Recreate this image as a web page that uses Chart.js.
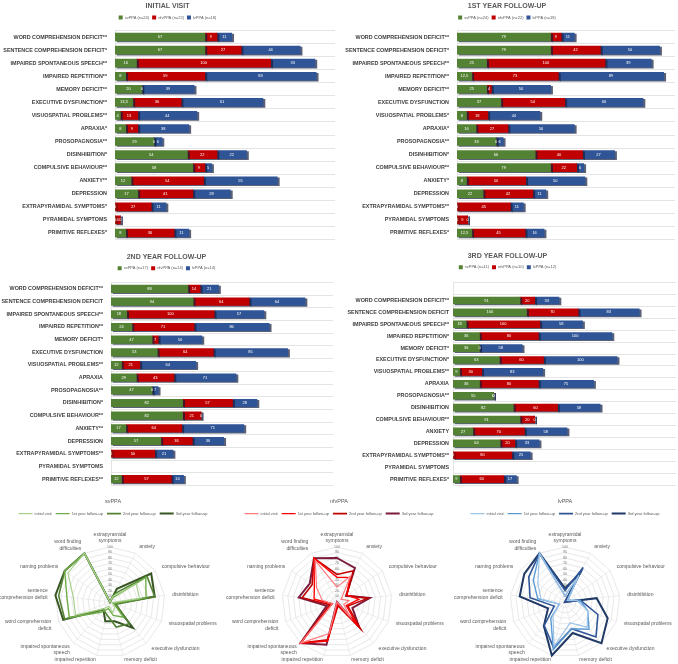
<!DOCTYPE html>
<html>
<head>
<meta charset="utf-8">
<script src="https://cdn.jsdelivr.net/npm/chart.js@4.4.1/dist/chart.umd.min.js"></script>
<style>
  body { margin: 0; background: #fff; }
  #page { position: relative; width: 678px; height: 664px; overflow: hidden; }
  .cell { position: absolute; }
</style>
</head>
<body>
<div id="page">
  <div class="cell" style="left:0;top:0;width:339px;height:242px"><canvas id="visit0"></canvas></div>
  <div class="cell" style="left:339px;top:0;width:339px;height:242px"><canvas id="visit1"></canvas></div>
  <div class="cell" style="left:0;top:245px;width:339px;height:243px"><canvas id="visit2"></canvas></div>
  <div class="cell" style="left:339px;top:245px;width:339px;height:243px"><canvas id="visit3"></canvas></div>
  <div class="cell" style="left:0;top:488px;width:226px;height:176px"><canvas id="radarSv"></canvas></div>
  <div class="cell" style="left:226px;top:488px;width:226px;height:176px"><canvas id="radarNf"></canvas></div>
  <div class="cell" style="left:452px;top:488px;width:226px;height:176px"><canvas id="radarLv"></canvas></div>
</div>
<script>
// ---- bar chart data (percent of patients, per visit) ----
const initialLabels = ['WORD COMPREHENSION DEFICIT**', 'SENTENCE COMPREHENSION DEFICIT*', 'IMPAIRED SPONTANEOUS SPEECH**', 'IMPAIRED REPETITION**', 'MEMORY DEFICIT**', 'EXECUTIVE DYSFUNCTION**', 'VISUOSPATIAL PROBLEMS**', 'APRAXIA*', 'PROSOPAGNOSIA**', 'DISINHIBITION*', 'COMPULSIVE BEHAVIOUR**', 'ANXIETY**', 'DEPRESSION', 'EXTRAPYRAMIDAL SYMPTOMS*', 'PYRAMIDAL SYMPTOMS', 'PRIMITIVE REFLEXES*'];
const firstLabels = ['WORD COMPREHENSION DEFICIT**', 'SENTENCE COMPREHENSION DEFICIT*', 'IMPAIRED SPONTANEOUS SPEECH**', 'IMPAIRED REPETITION**', 'MEMORY DEFICIT**', 'EXECUTIVE DYSFUNCTION', 'VISUOSPATIAL PROBLEMS*', 'APRAXIA*', 'PROSOPAGNOSIA**', 'DISINHIBITION*', 'COMPULSIVE BEHAVIOUR**', 'ANXIETY*', 'DEPRESSION', 'EXTRAPYRAMIDAL SYMPTOMS**', 'PYRAMIDAL SYMPTOMS', 'PRIMITIVE REFLEXES*'];
const secondLabels = ['WORD COMPREHENSION DEFICIT**', 'SENTENCE COMPREHENSION DEFICIT', 'IMPAIRED SPONTANEOUS SPEECH**', 'IMPAIRED REPETITION**', 'MEMORY DEFICIT*', 'EXECUTIVE DYSFUNCTION', 'VISUOSPATIAL PROBLEMS**', 'APRAXIA', 'PROSOPAGNOSIA**', 'DISINHIBITION*', 'COMPULSIVE BEHAVIOUR**', 'ANXIETY**', 'DEPRESSION', 'EXTRAPYRAMIDAL SYMPTOMS**', 'PYRAMIDAL SYMPTOMS', 'PRIMITIVE REFLEXES**'];
const thirdLabels = ['WORD COMPREHENSION DEFICIT**', 'SENTENCE COMPREHENSION DEFICIT', 'IMPAIRED SPONTANEOUS SPEECH**', 'IMPAIRED REPETITION*', 'MEMORY DEFICIT*', 'EXECUTIVE DYSFUNCTION*', 'VISUOSPATIAL PROBLEMS**', 'APRAXIA', 'PROSOPAGNOSIA**', 'DISINHIBITION', 'COMPULSIVE BEHAVIOUR**', 'ANXIETY', 'DEPRESSION', 'EXTRAPYRAMIDAL SYMPTOMS**', 'PYRAMIDAL SYMPTOMS', 'PRIMITIVE REFLEXES*'];

const initialLegend = ['svPPA (n=24)', 'nfvPPA (n=22)', 'lvPPA (n=18)'];
const firstLegend = ['svPPA (n=24)', 'nfvPPA (n=22)', 'lvPPA (n=18)'];
const secondLegend = ['svPPA (n=17)', 'nfvPPA (n=14)', 'lvPPA (n=14)'];
const thirdLegend = ['svPPA (n=11)', 'nfvPPA (n=10)', 'lvPPA (n=12)'];

const initialSv = [67, 67, 16, 8, 20, 13.3, 4, 8, 29, 54, 58, 12, 17, 0, 0, 8];
const initialNf = [9, 27, 100, 59, 0, 36, 13, 9, 0, 22, 9, 54, 41, 27, 4, 36];
const initialLv = [11, 44, 33, 83, 39, 61, 44, 38, 6, 22, 5, 55, 28, 11, 0, 11];

const firstSv = [79, 79, 25, 12.5, 25, 37, 8, 16, 33, 66, 79, 8, 22, 0, 0, 12.5];
const firstNf = [9, 42, 100, 73, 4, 54, 18, 27, 0, 40, 22, 50, 42, 45, 9, 45];
const firstLv = [11, 50, 39, 89, 50, 66, 44, 56, 6, 27, 6, 50, 11, 11, 0, 16];

const secondSv = [88, 94, 18, 24, 47, 53, 12, 29, 47, 82, 82, 17, 57, 0, null, 12];
const secondNf = [14, 64, 100, 71, 7, 64, 21, 43, 0, 57, 21, 64, 36, 50, null, 57];
const secondLv = [21, 64, 57, 86, 50, 85, 64, 71, 7, 28, 0, 71, 36, 21, null, 14];

const thirdSv = [91, 100, 18, 36, 36, 63, 9, 36, 55, 82, 91, 27, 64, 0, null, 9];
const thirdNf = [20, 70, 100, 80, 0, 60, 30, 80, 0, 60, 20, 70, 20, 80, null, 60];
const thirdLv = [33, 83, 58, 100, 58, 100, 83, 75, 0, 58, 0, 58, 33, 25, null, 17];

// ---- radar data (percent of patients with each symptom) ----
const radarAxes = [['extrapyramidal', 'symptoms'], 'anxiety', 'compulsive behaviour', 'disinhibition', 'visuospatial problems', 'executive dysfunction', 'memory deficit', 'impaired repetition', ['impaired spontaneous', 'speech'], ['word comprehension', 'deficit'], ['sentence', 'comprehension deficit'], 'naming problems', ['word finding', 'difficulties']];
const visitNames = ['initial visit', '1st year follow-up', '2nd year follow-up', '3rd year follow-up'];

const svRadar = [
  [0, 12, 58, 54, 4, 13.3, 20, 8, 16, 67, 67, 93, 100],
  [0, 8, 79, 66, 8, 37, 25, 12.5, 25, 79, 79, 100, 100],
  [0, 17, 82, 82, 12, 53, 47, 24, 18, 88, 94, 100, 100],
  [0, 27, 91, 82, 9, 63, 36, 36, 18, 91, 100, 100, 100]
];
const nfRadar = [
  [27, 54, 9, 22, 13, 36, 0, 59, 100, 9, 27, 45, 85],
  [45, 50, 22, 40, 18, 54, 4, 73, 100, 9, 42, 50, 90],
  [50, 64, 21, 57, 21, 64, 7, 71, 100, 14, 64, 55, 90],
  [80, 70, 20, 60, 30, 60, 0, 80, 100, 20, 70, 60, 90]
];
const lvRadar = [
  [11, 55, 5, 22, 44, 61, 39, 83, 33, 11, 44, 60, 100],
  [11, 50, 6, 27, 44, 66, 50, 89, 39, 11, 50, 70, 100],
  [21, 71, 0, 28, 64, 85, 50, 86, 57, 21, 64, 80, 100],
  [25, 58, 0, 58, 83, 100, 58, 100, 58, 33, 83, 90, 100]
];

const barColors = ['#548235', '#C00000', '#2F5597'];
const svColors = ['#A9D18E', '#70AD47', '#548235', '#375623'];
const nfColors = ['#FF7C80', '#FF0000', '#C00000', '#7B1C3C'];
const lvColors = ['#9DC3E6', '#5B9BD5', '#2F5597', '#1F3864'];
const radarWidths = [1.2, 1.4, 1.6, 2];

// fake 3D edge: dark offset shadow under the stacked bars
const barDepth = {
  id: 'barDepth',
  beforeDatasetsDraw(chart) {
    const ctx = chart.ctx;
    ctx.save();
    ctx.shadowColor = 'rgba(20,30,60,0.7)';
    ctx.shadowOffsetX = 2;
    ctx.shadowOffsetY = 1;
    ctx.shadowBlur = 0;
  },
  afterDatasetsDraw(chart) {
    chart.ctx.restore();
  }
};

// white value labels in the middle of each segment
const barValueLabels = {
  id: 'barValueLabels',
  afterDatasetsDraw(chart) {
    const ctx = chart.ctx;
    ctx.save();
    ctx.font = '4px "Liberation Sans"';
    ctx.fillStyle = '#ffffff';
    ctx.textAlign = 'center';
    ctx.textBaseline = 'middle';
    chart.data.datasets.forEach((ds, i) => {
      chart.getDatasetMeta(i).data.forEach((bar, j) => {
        const v = ds.data[j];
        if (v === null || v === undefined) return;
        ctx.fillText(String(v).replace('.', ','), (bar.x + bar.base) / 2, bar.y);
      });
    });
    ctx.restore();
  }
};

function visitChart(id, title, legendNames, labels, values, lay) {
  return new Chart(document.getElementById(id), {
    type: 'bar',
    data: {
      labels: labels,
      datasets: values.map((v, i) => ({
        label: legendNames[i],
        data: v,
        backgroundColor: barColors[i],
        borderWidth: 0,
        barThickness: lay.bar
      }))
    },
    options: {
      indexAxis: 'y',
      responsive: true,
      maintainAspectRatio: false,
      animation: false,
      layout: { padding: { top: 0, right: lay.right, bottom: lay.bottom, left: 0 } },
      scales: {
        x: {
          stacked: true, position: 'top', min: 0, max: lay.max,
          ticks: { display: false }, grid: { display: false }, border: { display: false },
          afterFit: (s) => { s.height = lay.gap; s.paddingLeft = 0; s.paddingRight = 0; }
        },
        y: {
          stacked: true,
          grid: { color: '#D9D9D9', lineWidth: 0.7, drawTicks: false, offset: true },
          border: { color: '#D9D9D9', width: 0.7 },
          ticks: {
            autoSkip: false, padding: lay.pad, color: '#404040',
            font: { family: 'Liberation Sans', size: 5.4, weight: 'bold' }
          },
          afterFit: (s) => { s.width = lay.axis; s.paddingTop = 0; s.paddingBottom = 0; }
        }
      },
      plugins: {
        title: {
          display: true, text: title, color: '#595959',
          font: { family: 'Liberation Sans', size: 7, weight: 'bold' },
          padding: { top: lay.titleTop, bottom: 2 }
        },
        legend: {
          labels: {
            boxWidth: 4, boxHeight: 4, padding: 3, color: '#595959',
            font: { family: 'Liberation Sans', size: 4 }
          }
        },
        tooltip: { enabled: false }
      }
    },
    plugins: [barDepth, barValueLabels]
  });
}

visitChart('visit0', 'INITIAL VISIT', initialLegend, initialLabels,
  [initialSv, initialNf, initialLv],
  { max: 164, axis: 115, pad: 8, right: 4, bottom: 2.5, gap: 1.1, titleTop: 2, bar: 8 });
visitChart('visit1', '1ST YEAR FOLLOW-UP', firstLegend, firstLabels,
  [firstSv, firstNf, firstLv],
  { max: 184, axis: 118, pad: 8, right: 3, bottom: 2.5, gap: 1.1, titleTop: 2, bar: 8 });
visitChart('visit2', '2ND YEAR FOLLOW-UP', secondLegend, secondLabels,
  [secondSv, secondNf, secondLv],
  { max: 254, axis: 111, pad: 8, right: 6, bottom: 2.6, gap: 2.4, titleTop: 7.8, bar: 7.5 });
// 3rd year chart has an empty first row in the original
visitChart('visit3', '3RD YEAR FOLLOW-UP', thirdLegend, [''].concat(thirdLabels),
  [[null].concat(thirdSv), [null].concat(thirdNf), [null].concat(thirdLv)],
  { max: 303, axis: 114, pad: 4, right: 2, bottom: 3, gap: 3.4, titleTop: 6.8, bar: 7 });

// pin the radial axis centre and radius so the three radars line up,
// then centre the category labels on their anchor like the original does
const radarFrame = {
  id: 'radarFrame',
  beforeLayout(chart, args, opts) {
    const r = chart.scales.r;
    if (!r) return;
    r.setCenterPoint = function () {
      this.drawingArea = opts.radius;
      this.xCenter = opts.cx;
      this.yCenter = opts.cy;
    };
  },
  afterLayout(chart, args, opts) {
    const r = chart.scales.r;
    if (!r || !r._pointLabelItems) return;
    const lh = opts.lineHeight;
    r._pointLabelItems.forEach((item, i) => {
      const lab = r._pointLabels[i];
      const h = (Array.isArray(lab) ? lab.length : 1) * lh;
      const pad = opts.pads[i];
      const a = r.getIndexAngle(i);
      const p = r.getPointPosition(i, r.drawingArea + pad);
      item.y = p.y - h / 2 - (h / 2) * Math.cos(a);
    });
  }
};

const labelPads = [3, 4, 4, 4, 4, 4, 1, 1, 2, 4, 4, 4, 3];

function radarChart(id, title, series, colors, frame) {
  return new Chart(document.getElementById(id), {
    type: 'radar',
    data: {
      labels: radarAxes,
      datasets: series.map((d, i) => ({
        label: visitNames[i],
        data: d,
        borderColor: colors[i],
        backgroundColor: colors[i],
        borderWidth: radarWidths[i],
        pointRadius: 0,
        fill: false
      }))
    },
    options: {
      responsive: true,
      maintainAspectRatio: false,
      animation: false,
      scales: {
        r: {
          min: 0, max: 100,
          ticks: { stepSize: 10, showLabelBackdrop: false, color: '#7F7F7F', font: { family: 'Liberation Sans', size: 3.5 } },
          grid: { color: '#D9D9D9', lineWidth: 0.6 },
          angleLines: { color: '#E3E3E3', lineWidth: 0.6 },
          pointLabels: {
            color: '#595959',
            padding: (ctx) => labelPads[ctx.index],
            font: { family: 'Liberation Sans', size: 5, lineHeight: 1.3 }
          }
        }
      },
      plugins: {
        radarFrame: Object.assign({ pads: labelPads, lineHeight: 6.5 }, frame),
        title: {
          display: true, text: title, color: '#595959',
          font: { family: 'Liberation Sans', size: 5.5, weight: 'normal' },
          padding: { top: 10, bottom: 3 }
        },
        legend: {
          labels: {
            usePointStyle: true, pointStyle: 'line', pointStyleWidth: 14,
            padding: 4, color: '#595959',
            font: { family: 'Liberation Sans', size: 4 }
          }
        },
        tooltip: { enabled: false }
      }
    },
    plugins: [radarFrame]
  });
}

radarChart('radarSv', 'svPPA', svRadar, svColors, { cx: 110, cy: 114, radius: 55 });
radarChart('radarNf', 'nfvPPA', nfRadar, nfColors, { cx: 111, cy: 114, radius: 55 });
radarChart('radarLv', 'lvPPA', lvRadar, lvColors, { cx: 113, cy: 114, radius: 55 });
</script>
</body>
</html>
